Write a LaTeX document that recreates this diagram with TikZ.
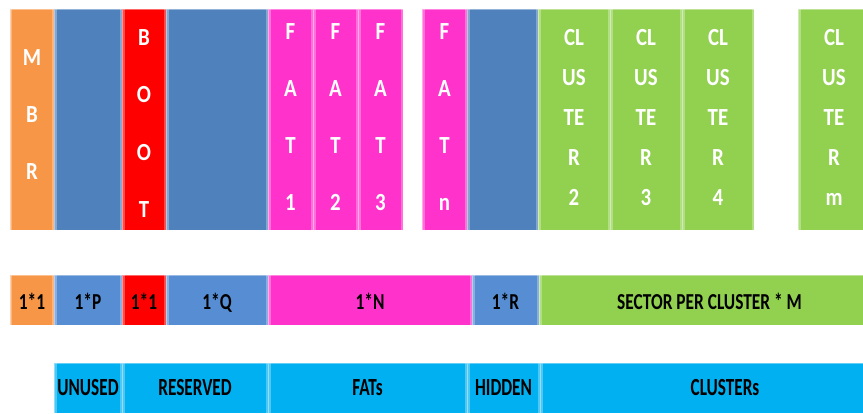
\documentclass[tikz,border=0pt]{standalone}
\usepackage{fontspec}
\newfontfamily\segfont{Carlito}[FakeStretch=0.85]
\newfontfamily\sizefont{Carlito}[FakeStretch=0.76]
\newfontfamily\tagfont{Carlito}[FakeStretch=0.7]
\usetikzlibrary{fit}
\definecolor{mbrorange}{HTML}{F79646}
\definecolor{volblue}{HTML}{4F81BD}
\definecolor{midblue}{HTML}{578DD3}
\definecolor{bootred}{HTML}{FF0000}
\definecolor{fatpink}{HTML}{FF33CC}
\definecolor{clgreen}{HTML}{92D050}
\definecolor{areacyan}{HTML}{00B0F0}

\begin{document}
\begin{tikzpicture}[
    x=0.02cm, y=-0.02cm,
    seg/.style={inner sep=0pt, outer sep=0pt, path picture={
        \fill[white, opacity=0.3] (path picture bounding box.south west) rectangle ([xshift=0.05cm]path picture bounding box.north west);
        \fill[white, opacity=0.3] (path picture bounding box.south east) rectangle ([xshift=-0.05cm]path picture bounding box.north east);
        \draw[white, opacity=0.4, line width=0.4pt] (path picture bounding box.south west) rectangle (path picture bounding box.north east);
    }},
    coltext/.style={text=white, align=center, inner sep=0pt, font=\segfont\bfseries\fontsize{14}{32.5}\selectfont},
    cltext/.style={coltext, font=\segfont\bfseries\fontsize{14}{22.7}\selectfont},
    sizebox/.style={seg, minimum height=1cm, text height=11pt, text depth=0pt, font=\sizefont\bfseries\fontsize{13}{15}\selectfont},
    areabox/.style={seg, fill=areacyan, minimum height=1cm, text height=9pt, text depth=1pt, font=\tagfont\bfseries\fontsize{14}{16}\selectfont},
]
\useasboundingbox (0,0) rectangle (863,413);
\clip (0,0) rectangle (863,413);

% disk layout: one column per region
\node[fit={(10,9) (54,230)}, seg, fill=mbrorange] (mbr) {};
\node[coltext] (mbrTxt) at ([yshift=0.1cm]mbr.center) {M\\B\\R};
\node[fit={(54,9) (122,230)}, seg, fill=volblue] (gapP) {};
\node[fit={(122,9) (166,230)}, seg, fill=bootred] (boot) {};
\node[coltext] (bootTxt) at ([yshift=-0.08cm]boot.center) {B\\O\\O\\T};
\node[fit={(166,9) (268,230)}, seg, fill=volblue] (gapQ) {};
\foreach \n/\xa/\xb in {1/268/313, 2/313/358, 3/358/403, n/422/467} {
    \node[fit={(\xa,9) (\xb,230)}, seg, fill=fatpink] (fat\n) {};
    \node[coltext] (fat\n Txt) at ([yshift=0.05cm]fat\n.center) {F\\A\\T\\\n};
}
\node[fit={(467,9) (538,230)}, seg, fill=volblue] (gapR) {};
\foreach \n/\xa in {2/538, 3/610, 4/682, m/798} {
    \node[fit={(\xa,9) (\xa+72,230)}, seg, fill=clgreen] (cl\n) {};
    \node[cltext] (cl\n Txt) at ([yshift=0.04cm]cl\n.center) {CL\\US\\TE\\R\\\n};
}

% sizes in sectors
\foreach \nm/\xa/\xb/\col/\txt in {szMbr/10/54/mbrorange/1*1, szP/54/122/midblue/1*P,
    szBoot/122/166/bootred/1*1, szQ/166/268/midblue/1*Q, szN/268/472/fatpink/1*N,
    szR/472/539/midblue/1*R, szM/539/880/clgreen/SECTOR PER CLUSTER * M} {
    \node[sizebox, fill=\col, minimum width={(\xb-\xa)*0.02cm}] (\nm) at ({(\xa+\xb)/2},300) {\txt};
}

% areas
\foreach \nm/\xa/\xb/\txt in {unused/54/122/UNUSED, reserved/122/268/RESERVED,
    fats/268/467/FATs, hidden/467/540/HIDDEN, clusters/540/910/CLUSTERs} {
    \node[areabox, minimum width={(\xb-\xa)*0.02cm}] (\nm) at ({(\xa+\xb)/2},388) {\txt};
}
\end{tikzpicture}
\end{document}
